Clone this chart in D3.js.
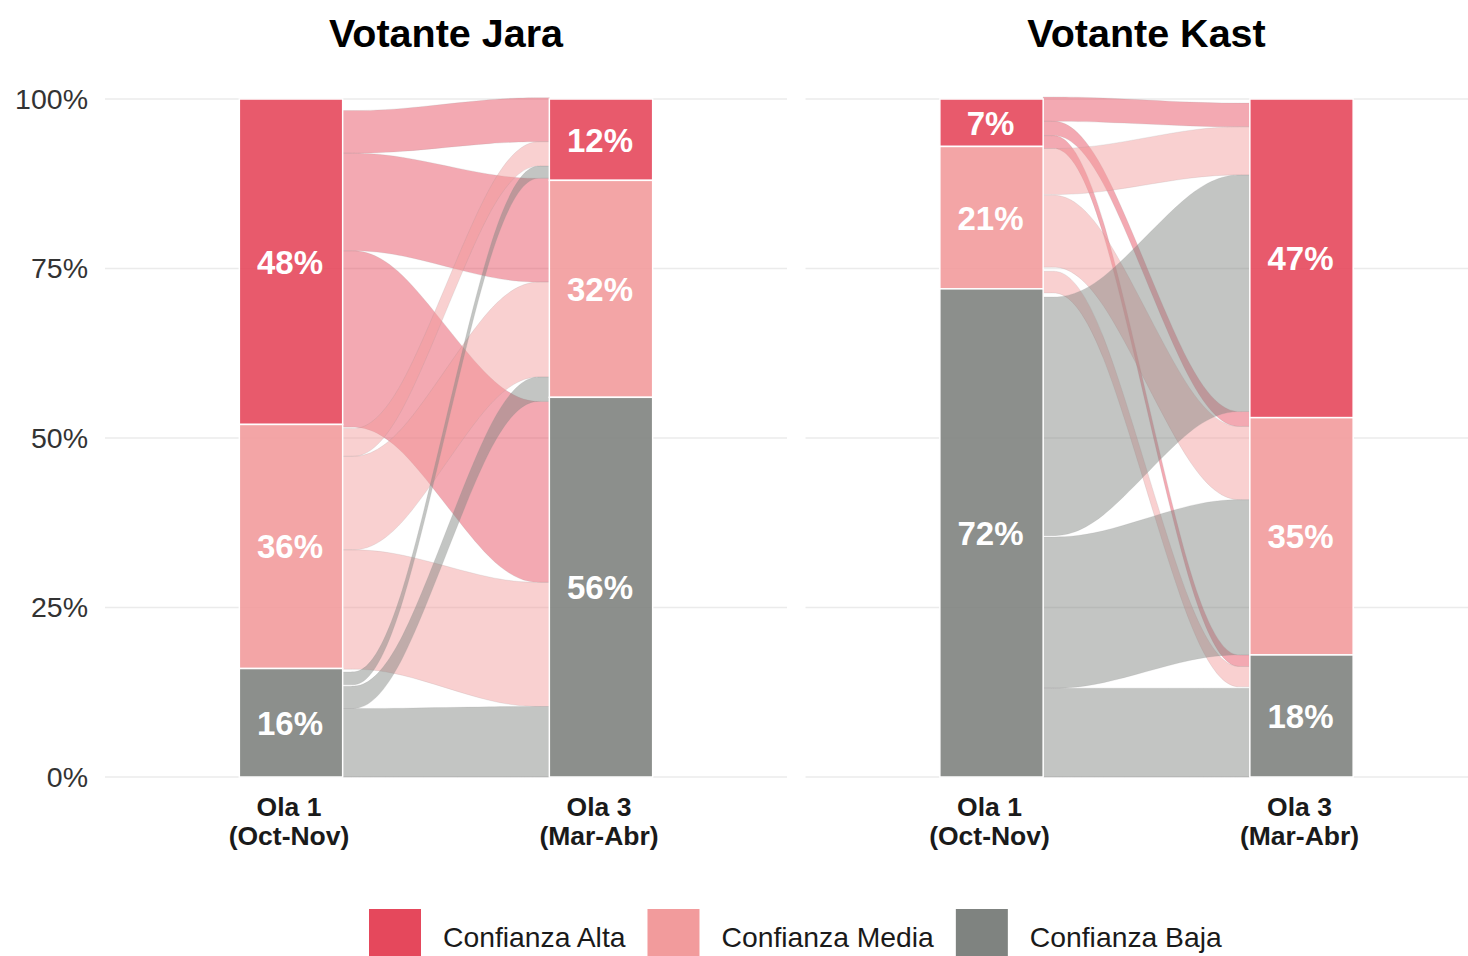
<!DOCTYPE html>
<head>
  <meta charset="utf-8">
  <script src="https://d3js.org/d3.v7.min.js"></script>
  <style>
    body {
      font-family: "Liberation Sans", Arial, sans-serif;
      margin: 0;
      background: #fff;
    }
  </style>
</head>

<body>
<div id="vis"></div>

<script>
// ---- data ----
const panels = ["Votante Jara", "Votante Kast"];
const waves = ["Ola 1", "Ola 3"];
const waveDates = ["(Oct-Nov)", "(Mar-Abr)"];
const levels = ["Confianza Alta", "Confianza Media", "Confianza Baja"];
const yTicks = [0, 25, 50, 75, 100];

// share of each level (top to bottom), %
const jaraOla1 = [48, 36, 16];
const jaraOla3 = [12, 32, 56];
const kastOla1 = [7, 21, 72];
const kastOla3 = [47, 35, 18];

// flows: from, to, Ola 1 top, Ola 1 bottom, Ola 3 top, Ola 3 bottom (%)
const jaraFlows = [
  ["Confianza Alta",  "Confianza Alta",  98.3, 92.0, 100.2, 93.7],
  ["Confianza Alta",  "Confianza Media", 92.0, 77.6, 88.3, 73.0],
  ["Confianza Alta",  "Confianza Baja",  77.6, 51.6, 55.4, 28.7],
  ["Confianza Media", "Confianza Alta",  51.4, 47.3, 93.7, 90.1],
  ["Confianza Media", "Confianza Media", 47.3, 33.5, 73.0, 59.0],
  ["Confianza Media", "Confianza Baja",  33.5, 15.9, 28.7, 10.4],
  ["Confianza Baja",  "Confianza Alta",  15.5, 13.6, 90.1, 88.3],
  ["Confianza Baja",  "Confianza Media", 13.4, 10.1, 59.0, 55.4],
  ["Confianza Baja",  "Confianza Baja",  10.1, 0,    10.4, 0]
];

const kastFlows = [
  ["Confianza Alta",  "Confianza Alta",  100.3, 96.7, 99.4, 95.9],
  ["Confianza Alta",  "Confianza Media", 96.7, 94.6, 53.9, 51.7],
  ["Confianza Alta",  "Confianza Baja",  94.6, 92.7, 18.0, 16.3],
  ["Confianza Media", "Confianza Alta",  92.7, 85.9, 95.9, 88.8],
  ["Confianza Media", "Confianza Media", 85.8, 75.2, 51.7, 40.9],
  ["Confianza Media", "Confianza Baja",  74.6, 71.4, 16.3, 13.3],
  ["Confianza Baja",  "Confianza Alta",  70.8, 35.6, 88.8, 53.9],
  ["Confianza Baja",  "Confianza Media", 35.4, 13.1, 40.9, 18.0],
  ["Confianza Baja",  "Confianza Baja",  13.1, 0,    13.1, 0]
];

// ---- chart ----
const width = 1468;
const height = 956;
const panelW = 682;
const panelX = [105, 805.5];

const svg = d3.select('#vis')
  .append('svg')
  .attr('width', width)
  .attr('height', height);

const y = d3.scaleLinear().domain([0, 100]).range([777, 99]);

const colour = d3.scaleOrdinal()
  .domain(levels)
  .range(["#E5485C", "#F29B9C", "#7F8380"]);

const flowArea = d3.area()
  .x(d => d[0])
  .y0(d => d[1])
  .y1(d => d[2])
  .curve(d3.curveBasis);

function drawPanel(i, title, ola1, ola3, flows) {
  const g = svg.append('g');
  const x = d3.scalePoint()
    .domain(waves)
    .range([panelX[i], panelX[i] + panelW])
    .padding(0.6);
  const barW = x.step() / 3;

  // grid
  g.selectAll('.grid')
    .data(yTicks)
    .enter()
    .append('line')
    .attr('x1', panelX[i])
    .attr('x2', panelX[i] + panelW)
    .attr('y1', d => y(d))
    .attr('y2', d => y(d))
    .attr('stroke', '#EBEBEB')
    .attr('stroke-width', 1.5);

  // title
  g.append('text')
    .attr('x', panelX[i] + panelW / 2)
    .attr('y', 47)
    .attr('text-anchor', 'middle')
    .style('font-size', '39.5px')
    .style('font-weight', 'bold')
    .attr('fill', '#000')
    .text(title);

  // flows
  const x0 = x(waves[0]) + barW / 2;
  const x1 = x(waves[1]) - barW / 2;
  const dx = x1 - x0;
  g.selectAll('.flow')
    .data(flows)
    .enter()
    .append('path')
    .attr('d', f => flowArea([
      [x0, y(f[3]), y(f[2])],
      [x0 + dx / 4, y(f[3]), y(f[2])],
      [x1 - dx / 4, y(f[5]), y(f[4])],
      [x1, y(f[5]), y(f[4])]
    ]))
    .attr('fill', f => colour(f[0]))
    .attr('fill-opacity', 0.47)
    .attr('stroke', '#8a8a8a')
    .attr('stroke-opacity', 0.25)
    .attr('stroke-width', 0.6);

  // strata
  [ola1, ola3].forEach((vals, w) => {
    let top = 100;
    const strata = vals.map((v, k) => {
      const s = { level: levels[k], value: v, top: top, bottom: top - v };
      top -= v;
      return s;
    });
    const cx = x(waves[w]);
    g.selectAll('.bar' + w)
      .data(strata)
      .enter()
      .append('rect')
      .attr('x', cx - barW / 2)
      .attr('width', barW)
      .attr('y', d => y(d.top))
      .attr('height', d => y(d.bottom) - y(d.top))
      .attr('fill', d => colour(d.level))
      .attr('fill-opacity', 0.9)
      .attr('stroke', '#fff')
      .attr('stroke-width', 1.5);

    g.selectAll('.lab' + w)
      .data(strata)
      .enter()
      .append('text')
      .attr('x', cx - 1)
      .attr('y', d => y((d.top + d.bottom) / 2))
      .attr('dy', '0.36em')
      .attr('text-anchor', 'middle')
      .style('font-size', '33px')
      .style('font-weight', 'bold')
      .attr('fill', '#fff')
      .text(d => d.value + '%');

    // x label
    const xl = g.append('text')
      .attr('text-anchor', 'middle')
      .style('font-size', '26.5px')
      .style('font-weight', 'bold')
      .attr('fill', '#1a1a1a');
    xl.append('tspan').attr('x', cx - 2).attr('y', 816).text(waves[w]);
    xl.append('tspan').attr('x', cx - 2).attr('y', 845).text(waveDates[w]);
  });
}

// y axis
const yAxis = svg.append('g')
  .attr('transform', 'translate(' + panelX[0] + ',0)')
  .call(d3.axisLeft(y).tickValues(yTicks).tickSize(0).tickPadding(17).tickFormat(d => d + '%'));
yAxis.select('.domain').remove();
yAxis.selectAll('text')
  .style('font-size', '28.5px')
  .style('font-family', '"Liberation Sans", Arial, sans-serif')
  .attr('fill', '#333');

drawPanel(0, panels[0], jaraOla1, jaraOla3, jaraFlows);
drawPanel(1, panels[1], kastOla1, kastOla3, kastFlows);

// legend
const legend = svg.append('g');
let lx = 369;
levels.forEach(l => {
  legend.append('rect')
    .attr('x', lx)
    .attr('y', 909)
    .attr('width', 52)
    .attr('height', 52)
    .attr('fill', colour(l));
  const t = legend.append('text')
    .attr('x', lx + 74)
    .attr('y', 947)
    .style('font-size', '28.3px')
    .attr('fill', '#1a1a1a')
    .text(l);
  lx += 74 + t.node().getComputedTextLength() + 22;
});
</script>
</body>
